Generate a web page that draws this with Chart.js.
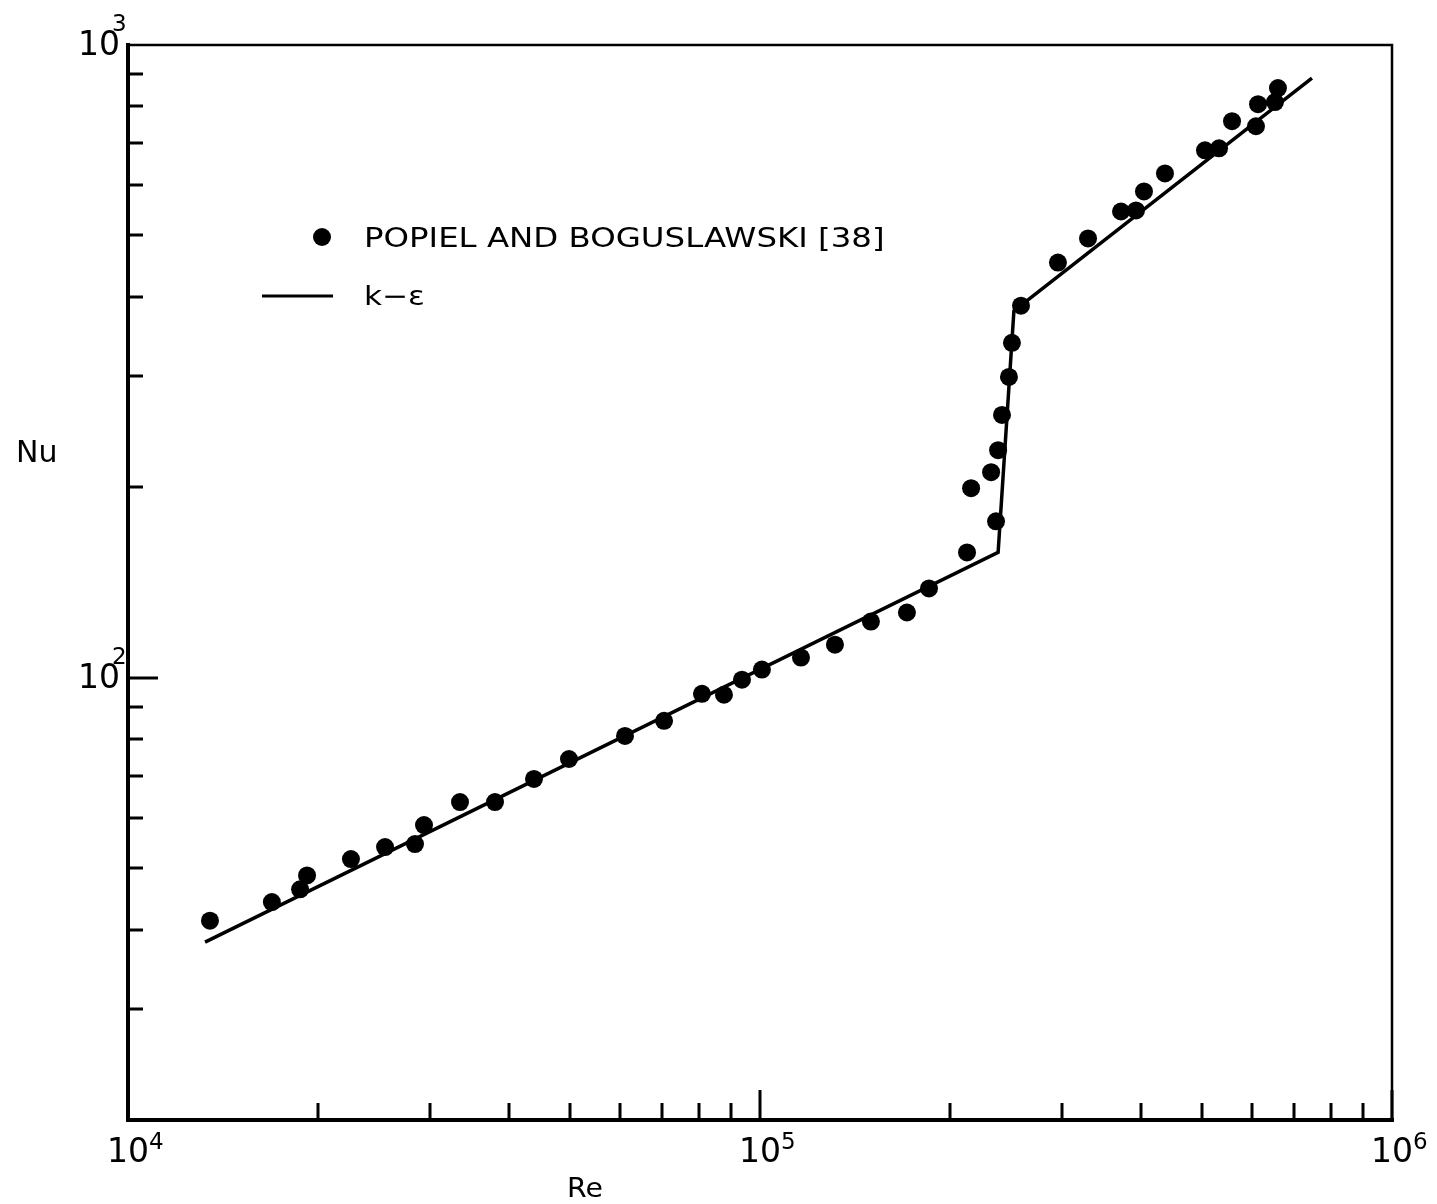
<!DOCTYPE html>
<html>
<head>
<meta charset="utf-8">
<title>Nu vs Re</title>
<script src="https://cdn.jsdelivr.net/npm/chart.js@4.4.1/dist/chart.umd.min.js"></script>
<style>
  html, body { margin: 0; padding: 0; background: #fff; }
  #wrap { position: relative; width: 1437px; height: 1204px; }
</style>
</head>
<body>
<div id="wrap"><canvas id="nuChart"></canvas></div>
<script>
// measured points (Popiel & Boguslawski)
const reData = [13480, 16890, 18720, 19200, 22530, 25510, 28450, 29400, 33520, 38080,
  43890, 49860, 61150, 70500, 80940, 87700, 93650, 100700, 116100, 131400,
  149800, 170800, 185100, 212600, 215800, 232100, 236300, 238100, 241500, 247700,
  250400, 258800, 296100, 330400, 372600, 393500, 405100, 437300, 505900, 532500,
  558300, 609200, 613800, 652900, 660000];
const nuData = [41.3, 44.2, 46.3, 48.7, 51.7, 54.0, 54.6, 58.5, 63.6, 63.6,
  69.2, 74.4, 80.9, 85.5, 94.3, 94.0, 99.3, 103, 107.6, 112.8,
  122.7, 126.8, 138.4, 157.8, 199.3, 211.3, 176.7, 228.9, 260.2, 298.8,
  338.3, 387.2, 453, 494.6, 545.6, 547.6, 586.8, 626.7, 681.7, 686.7,
  757.8, 744, 806.4, 812.4, 855];

// k-epsilon prediction
const lineRe = [13240, 238100, 252200, 747000];
const lineNu = [38.2, 157.8, 380, 886.6];

// axis ticks
const xMajor = [1e4, 1e5, 1e6];
const xMinor = [2e4, 3e4, 4e4, 5e4, 6e4, 7e4, 8e4, 9e4, 2e5, 3e5, 4e5, 5e5, 6e5, 7e5, 8e5, 9e5];
const yMajor = [100];
const yMinor = [30, 40, 50, 60, 70, 80, 90, 200, 300, 400, 500, 600, 700, 800, 900];
const xLabels = [[1e4, '4'], [1e5, '5'], [1e6, '6']];
const yLabels = [[1e2, '2'], [1e3, '3']];

const FONT = '"DejaVu Sans", sans-serif';

function toPoints(xs, ys) {
  return xs.map((v, i) => ({ x: v, y: ys[i] }));
}

// text stretched sideways, the lettering on this plot is quite wide
function wideText(ctx, str, x, y, sx) {
  ctx.save();
  ctx.translate(x, y);
  ctx.scale(sx, 1);
  ctx.fillText(str, 0, 0);
  ctx.restore();
}

// frame, inward ticks, tick labels, axis titles and legend
const decor = {
  id: 'decor',
  afterDraw(chart) {
    const { ctx, chartArea: a, scales: { x, y } } = chart;
    ctx.save();
    ctx.strokeStyle = '#000';
    ctx.fillStyle = '#000';
    ctx.lineCap = 'square';

    // top and right edges are drawn lighter than the two axes
    ctx.lineWidth = 2.5;
    ctx.beginPath();
    ctx.moveTo(a.left, a.top); ctx.lineTo(a.right, a.top); ctx.lineTo(a.right, a.bottom);
    ctx.stroke();
    ctx.lineWidth = 4;
    ctx.beginPath();
    ctx.moveTo(a.left, a.top); ctx.lineTo(a.left, a.bottom); ctx.lineTo(a.right, a.bottom);
    ctx.stroke();

    ctx.lineCap = 'butt';
    ctx.lineWidth = 3;
    ctx.beginPath();
    xMinor.forEach(v => {
      const px = Math.round(x.getPixelForValue(v));
      ctx.moveTo(px, a.bottom); ctx.lineTo(px, a.bottom - 17);
    });
    xMajor.forEach(v => {
      const px = Math.round(x.getPixelForValue(v));
      ctx.moveTo(px, a.bottom); ctx.lineTo(px, a.bottom - 30);
    });
    yMinor.forEach(v => {
      const py = Math.round(y.getPixelForValue(v));
      ctx.moveTo(a.left, py); ctx.lineTo(a.left + 15, py);
    });
    yMajor.forEach(v => {
      const py = Math.round(y.getPixelForValue(v));
      ctx.moveTo(a.left, py); ctx.lineTo(a.left + 30, py);
    });
    ctx.stroke();

    // x labels: "10" centred under the tick, exponent up and right
    ctx.textBaseline = 'alphabetic';
    xLabels.forEach(([v, e]) => {
      const px = x.getPixelForValue(v);
      ctx.font = '33px ' + FONT;
      ctx.textAlign = 'center';
      ctx.fillText('10', px, 1162);
      const w = ctx.measureText('10').width;
      ctx.font = '23px ' + FONT;
      ctx.textAlign = 'left';
      ctx.fillText(e, px + w / 2, 1149);
    });

    // y labels: "10" left of the axis, exponent above
    yLabels.forEach(([v, e]) => {
      const py = y.getPixelForValue(v);
      ctx.font = '33px ' + FONT;
      ctx.textAlign = 'right';
      ctx.fillText('10', a.left - 8, py + 10);
      ctx.font = '23px ' + FONT;
      ctx.textAlign = 'left';
      ctx.fillText(e, a.left - 16, py - 14);
    });

    // axis titles
    ctx.textAlign = 'left';
    ctx.font = '30px ' + FONT;
    wideText(ctx, 'Nu', 16, 462, 1.0);
    ctx.font = '27px ' + FONT;
    wideText(ctx, 'Re', 567, 1197, 1.05);

    // legend
    ctx.beginPath();
    ctx.arc(322, 237, 9, 0, Math.PI * 2);
    ctx.fill();
    ctx.font = '27px ' + FONT;
    wideText(ctx, 'POPIEL AND BOGUSLAWSKI [38]', 364, 247, 1.2);
    ctx.lineWidth = 3;
    ctx.beginPath();
    ctx.moveTo(262, 296); ctx.lineTo(333, 296);
    ctx.stroke();
    wideText(ctx, 'k\u2212\u03b5', 364, 305, 1.15);
    ctx.restore();
  }
};

new Chart(document.getElementById('nuChart'), {
  type: 'scatter',
  data: {
    datasets: [
      {
        label: 'k-\u03b5',
        data: toPoints(lineRe, lineNu),
        showLine: true,
        borderColor: '#000',
        borderWidth: 3.5,
        pointRadius: 0,
        tension: 0,
      },
      {
        label: 'POPIEL AND BOGUSLAWSKI [38]',
        data: toPoints(reData, nuData),
        backgroundColor: '#000',
        borderWidth: 0,
        pointRadius: 9,
      },
    ],
  },
  options: {
    responsive: true,
    maintainAspectRatio: false,
    animation: false,
    layout: { padding: { left: 128, top: 45, right: 45, bottom: 84 } },
    plugins: { legend: { display: false }, tooltip: { enabled: false } },
    scales: {
      x: { type: 'logarithmic', min: 1e4, max: 1e6, display: false },
      y: { type: 'logarithmic', min: 20, max: 1000, display: false },
    },
  },
  plugins: [decor],
});
</script>
</body>
</html>
